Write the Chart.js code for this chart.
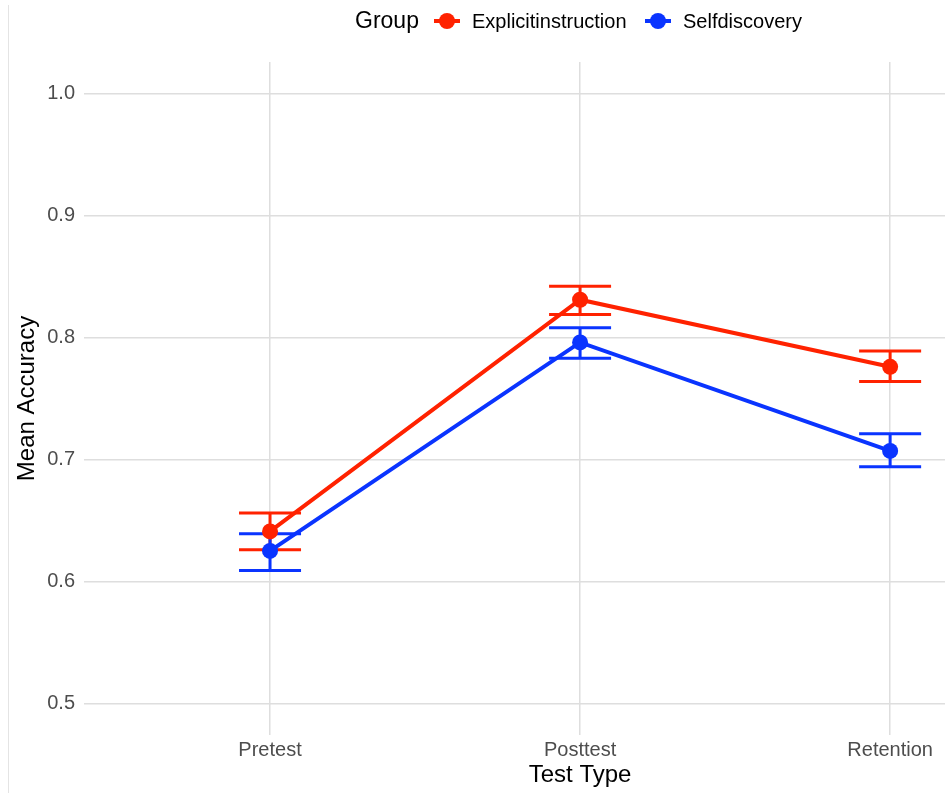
<!DOCTYPE html>
<html>
<head>
<meta charset="utf-8">
<script src="https://cdn.jsdelivr.net/npm/chart.js@4"></script>
<style>
  html, body { margin: 0; padding: 0; background: #fff; }
  #wrap { width: 945px; height: 793px; }
</style>
</head>
<body>
<div id="wrap"><canvas id="c" width="945" height="793"></canvas></div>
<script>
// ---- data ----
const categories = ["Pretest", "Posttest", "Retention"];
const groups = ["Explicitinstruction", "Selfdiscovery"];
const explicitMean = [0.641, 0.831, 0.776];
const explicitLower = [0.626, 0.819, 0.764];
const explicitUpper = [0.656, 0.842, 0.789];
const selfMean = [0.625, 0.796, 0.707];
const selfLower = [0.609, 0.783, 0.694];
const selfUpper = [0.639, 0.808, 0.721];
const yTicks = [0.5, 0.6, 0.7, 0.8, 0.9, 1.0];

const RED = "#ff2200";
const BLUE = "#0a34ff";
const FONT = "'Liberation Sans', Arial, Helvetica, sans-serif";

function pts(arr) { return arr.map((v, i) => ({ x: i, y: v })); }

const errBars = [
  { lower: explicitLower, upper: explicitUpper, color: RED },
  { lower: selfLower, upper: selfUpper, color: BLUE }
];

const errorBarPlugin = {
  id: 'errorBars',
  beforeDatasetsDraw(chart) {
    const ctx = chart.ctx, xs = chart.scales.x, ys = chart.scales.y;
    ctx.save();
    errBars.forEach(eb => {
      ctx.strokeStyle = eb.color;
      ctx.lineWidth = 3;
      ctx.lineCap = 'butt';
      eb.lower.forEach((lo, i) => {
        const hi = eb.upper[i];
        const cx = xs.getPixelForValue(i);
        const xl = xs.getPixelForValue(i - 0.1);
        const xr = xs.getPixelForValue(i + 0.1);
        const yl = ys.getPixelForValue(lo);
        const yh = ys.getPixelForValue(hi);
        ctx.beginPath();
        ctx.moveTo(cx, yl); ctx.lineTo(cx, yh);
        ctx.moveTo(xl, yl); ctx.lineTo(xr, yl);
        ctx.moveTo(xl, yh); ctx.lineTo(xr, yh);
        ctx.stroke();
      });
    });
    ctx.restore();
  }
};

const decorPlugin = {
  id: 'decor',
  afterDraw(chart) {
    const ctx = chart.ctx;
    const ca = chart.chartArea;
    const xs = chart.scales.x;
    const centerX = xs.getPixelForValue(1);
    ctx.save();
    // left border line
    ctx.strokeStyle = '#e4e4e4';
    ctx.lineWidth = 1;
    ctx.beginPath(); ctx.moveTo(8.5, 5); ctx.lineTo(8.5, 793); ctx.stroke();

    // axis titles
    ctx.fillStyle = '#000';
    ctx.font = '24px ' + FONT;
    ctx.textAlign = 'center';
    ctx.textBaseline = 'middle';
    ctx.fillText('Test Type', centerX, 775);
    ctx.save();
    ctx.translate(27, (ca.top + ca.bottom) / 2);
    ctx.rotate(-Math.PI / 2);
    ctx.fillText('Mean Accuracy', 0, 0);
    ctx.restore();

    // legend
    const ly = 21;
    ctx.textAlign = 'left';
    ctx.font = '23px ' + FONT;
    ctx.fillText('Group', 355, ly + 1);
    const items = [
      { label: groups[0], color: RED, sx: 434, tx: 472 },
      { label: groups[1], color: BLUE, sx: 645, tx: 683 }
    ];
    ctx.font = '20px ' + FONT;
    items.forEach(it => {
      ctx.strokeStyle = it.color;
      ctx.lineWidth = 4;
      ctx.beginPath(); ctx.moveTo(it.sx, ly); ctx.lineTo(it.sx + 26, ly); ctx.stroke();
      ctx.fillStyle = it.color;
      ctx.beginPath(); ctx.arc(it.sx + 13, ly, 8, 0, Math.PI * 2); ctx.fill();
      ctx.fillStyle = '#000';
      ctx.fillText(it.label, it.tx, ly + 1);
    });
    ctx.restore();
  }
};

new Chart(document.getElementById('c'), {
  type: 'line',
  data: {
    datasets: [
      {
        label: groups[0], data: pts(explicitMean),
        borderColor: RED, backgroundColor: RED, borderWidth: 4,
        pointRadius: 8, pointHoverRadius: 8, pointBorderWidth: 0, tension: 0
      },
      {
        label: groups[1], data: pts(selfMean),
        borderColor: BLUE, backgroundColor: BLUE, borderWidth: 4,
        pointRadius: 8, pointHoverRadius: 8, pointBorderWidth: 0, tension: 0
      }
    ]
  },
  options: {
    responsive: false,
    animation: false,
    devicePixelRatio: 1,
    layout: { autoPadding: false, padding: { top: 62, left: 0, right: 0, bottom: 0 } },
    plugins: { legend: { display: false }, tooltip: { enabled: false } },
    scales: {
      x: {
        type: 'linear', min: -0.6, max: 2.177,
        afterBuildTicks(s) { s.ticks = categories.map((c, i) => ({ value: i })); },
        afterFit(s) { s.height = 58; s.paddingLeft = 0; s.paddingRight = 0; },
        ticks: {
          callback: v => categories[v] ?? '',
          color: '#4d4d4d', font: { size: 20, family: FONT }, padding: 3,
          maxRotation: 0, autoSkip: false
        },
        grid: { color: '#dedede', lineWidth: 1.5, drawTicks: false },
        border: { display: false }
      },
      y: {
        type: 'linear', min: 0.474, max: 1.026,
        afterBuildTicks(s) { s.ticks = yTicks.map(v => ({ value: v })); },
        afterFit(s) { s.width = 84; s.paddingTop = 0; s.paddingBottom = 0; },
        ticks: {
          callback: v => Number(v).toFixed(1),
          color: '#4d4d4d', font: { size: 20, family: FONT }, padding: 9
        },
        grid: { color: '#dedede', lineWidth: 1.5, drawTicks: false },
        border: { display: false }
      }
    }
  },
  plugins: [errorBarPlugin, decorPlugin]
});
</script>
</body>
</html>
